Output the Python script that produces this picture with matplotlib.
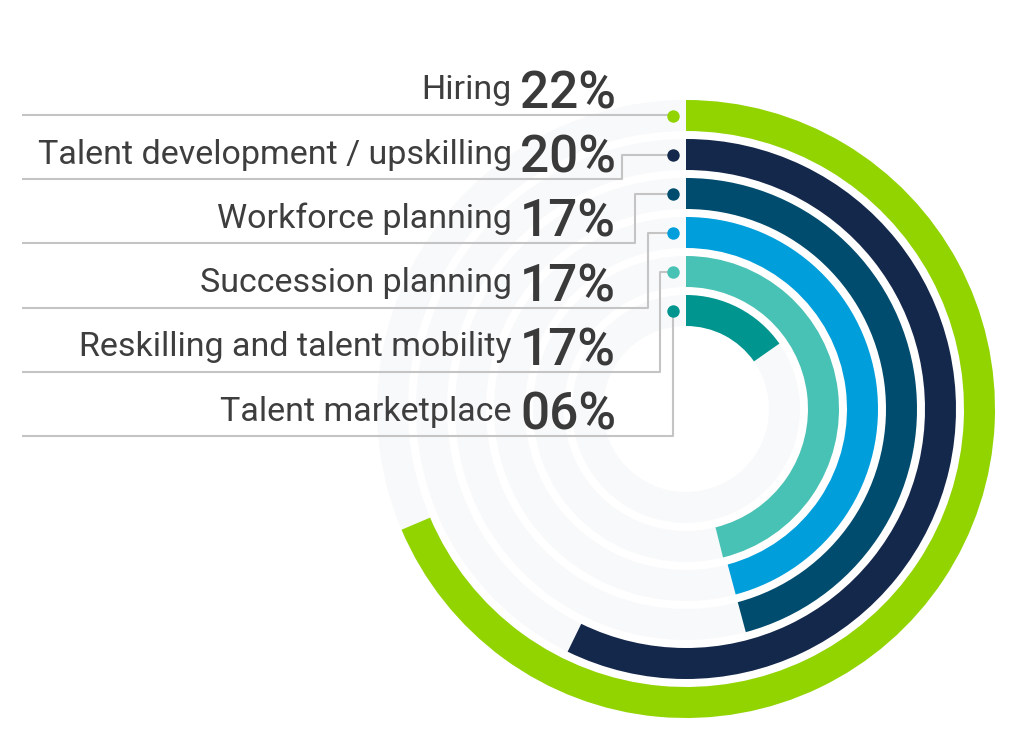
import numpy as np
import matplotlib.pyplot as plt

# data
labels = ['Hiring', 'Talent development / upskilling', 'Workforce planning',
          'Succession planning', 'Reskilling and talent mobility', 'Talent marketplace']
pct_text = ['22%', '20%', '17%', '17%', '17%', '06%']
# arc sweep of each ring in degrees (clockwise from 12 o'clock), as drawn
arc_deg = [247, 206, 165, 165, 166, 55]
colors = ['#92d400', '#14284b', '#004c6e', '#009fdb', '#48c2b4', '#00958f']

W, H = 1024, 746
cx, cy = 686, 409          # centre of the rings in pixels
r_max = 310
ring_w = 31
ring_step = 39
r_inner0 = 83              # inner radius of the innermost ring
n = len(labels)

fig = plt.figure(figsize=(W / 100, H / 100), dpi=100)
fig.patch.set_facecolor('white')

# polar axes for the rings
ax = fig.add_axes([(cx - r_max) / W, (H - cy - r_max) / H, 2 * r_max / W, 2 * r_max / H],
                  projection='polar')
ax.set_theta_zero_location('N')
ax.set_theta_direction(-1)
ax.set_ylim(0, r_max)
ax.axis('off')

for i in range(n):
    bottom = r_inner0 + ring_step * (n - 1 - i)
    # faint full-circle track
    ax.bar(np.pi, ring_w, width=2 * np.pi, bottom=bottom, color='#f8f9fa',
           linewidth=0, zorder=1)
    sweep = np.deg2rad(arc_deg[i])
    ax.bar(sweep / 2, ring_w, width=sweep, bottom=bottom, color=colors[i],
           linewidth=0, zorder=2)

# overlay axes in pixel coordinates for labels and leader lines
ov = fig.add_axes([0, 0, 1, 1])
ov.set_xlim(0, W)
ov.set_ylim(H, 0)
ov.axis('off')
ov.patch.set_alpha(0)

line_col = '#c4c4c4'
for i in range(n):
    bottom = r_inner0 + ring_step * (n - 1 - i)
    dot_y = cy - (bottom + ring_w / 2)
    under_y = 115 + 64.2 * i
    dot_x = 673
    if i == 0:
        xs, ys = [22, dot_x], [under_y, under_y]
    else:
        vx = 622 + 12.8 * (i - 1)
        xs = [22, vx, vx, dot_x]
        ys = [under_y, under_y, dot_y, dot_y]
    ov.plot(xs, ys, color=line_col, lw=1.5, solid_capstyle='butt', zorder=3)
    ov.scatter([dot_x], [dot_y], s=80, color=colors[i], zorder=4, linewidths=0)
    ov.text(512, under_y - 15.5, labels[i], ha='right', va='baseline',
            fontsize=24.5, color='#3e3e3e', family='Roboto')
    ov.text(520, under_y - 6.5, pct_text[i], ha='left', va='baseline',
            fontsize=37, color='#3a3a3a', family='Roboto', fontweight='medium')

fig.savefig('out.png', dpi=100, facecolor='white')
